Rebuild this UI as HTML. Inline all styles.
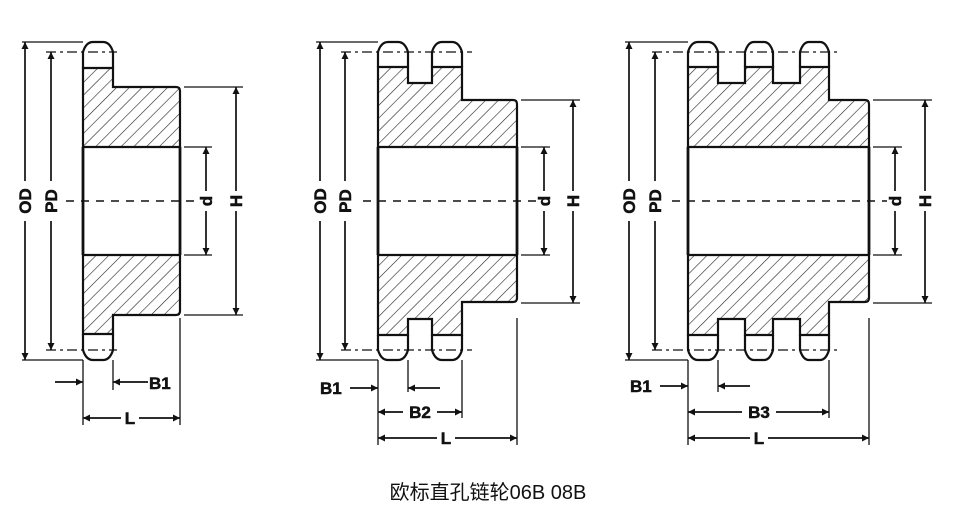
<!DOCTYPE html>
<html><head><meta charset="utf-8"><style>
html,body{margin:0;padding:0;background:#fff;width:956px;height:511px;overflow:hidden}
svg{display:block}
text{font-family:"Liberation Sans",Arial,sans-serif;font-weight:bold;fill:#111}
.cap{font-family:"Liberation Sans","Noto Sans CJK SC",sans-serif;font-weight:normal;fill:#111}
</style></head><body>
<svg width="956" height="511" viewBox="0 0 956 511" xmlns="http://www.w3.org/2000/svg">
<defs>
<pattern id="h" width="9" height="9" patternUnits="userSpaceOnUse" patternTransform="rotate(45)">
<line x1="0" y1="0" x2="0" y2="9" stroke="#222" stroke-width="1.2"/>
</pattern>
<pattern id="h2" width="9" height="9" patternUnits="userSpaceOnUse" patternTransform="rotate(-45)">
<line x1="0" y1="0" x2="0" y2="9" stroke="#222" stroke-width="1.2"/>
</pattern>
<marker id="a" viewBox="0 0 10 10" refX="10" refY="5" markerWidth="10" markerHeight="7" markerUnits="userSpaceOnUse" orient="auto-start-reverse">
<path d="M0,0 L10,5 L0,10 Z" fill="#111"/>
</marker>
</defs>
<g fill="none" stroke="#111" stroke-width="1.7">

<!-- ===== Sprocket 1 ===== -->
<g>
<path d="M83,147 L83,68 L113,68 L113,87 L176,87 Q180,87 180,91 L180,147 Z" fill="url(#h)" stroke-width="2.2"/>
<path d="M83,68 L83,52 Q86,42 93,42 L103,42 Q110,42 113,52 L113,68" stroke-width="2.2"/>
</g>
<g transform="translate(0,402) scale(1,-1)">
<path d="M83,147 L83,68 L113,68 L113,87 L176,87 Q180,87 180,91 L180,147 Z" fill="url(#h2)" stroke-width="2.2"/>
<path d="M83,68 L83,52 Q86,42 93,42 L103,42 Q110,42 113,52 L113,68" stroke-width="2.2"/>
</g>
<line x1="83" y1="147" x2="83" y2="255" stroke-width="2.8"/>
<line x1="180" y1="147" x2="180" y2="255" stroke-width="2.8"/>
<line x1="66" y1="201" x2="200" y2="201" stroke-dasharray="8,7" stroke-width="1.5"/>
<line x1="46" y1="52" x2="117" y2="52" stroke-dasharray="10,4,3,4" stroke-width="1.3"/>
<line x1="46" y1="350" x2="117" y2="350" stroke-dasharray="10,4,3,4" stroke-width="1.3"/>
<line x1="22" y1="42" x2="83" y2="42" stroke-width="1.3"/>
<line x1="22" y1="360" x2="83" y2="360" stroke-width="1.3"/>
<line x1="184" y1="87" x2="243" y2="87" stroke-width="1.3"/>
<line x1="184" y1="315" x2="243" y2="315" stroke-width="1.3"/>
<line x1="184" y1="147" x2="212" y2="147" stroke-width="1.3"/>
<line x1="184" y1="255" x2="212" y2="255" stroke-width="1.3"/>
<line x1="25" y1="42" x2="25" y2="360" marker-start="url(#a)" marker-end="url(#a)"/>
<line x1="51" y1="52" x2="51" y2="350" marker-start="url(#a)" marker-end="url(#a)"/>
<line x1="206" y1="147" x2="206" y2="255" marker-start="url(#a)" marker-end="url(#a)"/>
<line x1="236" y1="87" x2="236" y2="315" marker-start="url(#a)" marker-end="url(#a)"/>
<line x1="83" y1="360" x2="83" y2="425" stroke-width="1.3"/>
<line x1="113" y1="360" x2="113" y2="390" stroke-width="1.3"/>
<line x1="180" y1="318" x2="180" y2="425" stroke-width="1.3"/>
<line x1="55" y1="382" x2="83" y2="382" marker-end="url(#a)"/>
<line x1="148" y1="382" x2="113" y2="382" marker-end="url(#a)"/>
<line x1="83" y1="418" x2="180" y2="418" marker-start="url(#a)" marker-end="url(#a)"/>

<!-- ===== Sprocket 2 ===== -->
<g>
<path d="M378,147 L378,67 L408,67 L408,83 L432,83 L432,67 L462,67 L462,100 L513,100 Q517,100 517,104 L517,147 Z" fill="url(#h)" stroke-width="2.2"/>
<path d="M378,67 L378,52 Q381,42 388,42 L398,42 Q405,42 408,52 L408,67 M432,67 L432,52 Q435,42 442,42 L452,42 Q459,42 462,52 L462,67" stroke-width="2.2"/>
</g>
<g transform="translate(0,402) scale(1,-1)">
<path d="M378,147 L378,67 L408,67 L408,83 L432,83 L432,67 L462,67 L462,100 L513,100 Q517,100 517,104 L517,147 Z" fill="url(#h2)" stroke-width="2.2"/>
<path d="M378,67 L378,52 Q381,42 388,42 L398,42 Q405,42 408,52 L408,67 M432,67 L432,52 Q435,42 442,42 L452,42 Q459,42 462,52 L462,67" stroke-width="2.2"/>
</g>
<line x1="378" y1="147" x2="378" y2="255" stroke-width="2.8"/>
<line x1="517" y1="147" x2="517" y2="255" stroke-width="2.8"/>
<line x1="363" y1="201" x2="540" y2="201" stroke-dasharray="8,7" stroke-width="1.5"/>
<line x1="341" y1="52" x2="472" y2="52" stroke-dasharray="10,4,3,4" stroke-width="1.3"/>
<line x1="341" y1="350" x2="472" y2="350" stroke-dasharray="10,4,3,4" stroke-width="1.3"/>
<line x1="316" y1="42" x2="378" y2="42" stroke-width="1.3"/>
<line x1="316" y1="360" x2="378" y2="360" stroke-width="1.3"/>
<line x1="521" y1="100" x2="580" y2="100" stroke-width="1.3"/>
<line x1="521" y1="303" x2="580" y2="303" stroke-width="1.3"/>
<line x1="521" y1="147" x2="550" y2="147" stroke-width="1.3"/>
<line x1="521" y1="255" x2="550" y2="255" stroke-width="1.3"/>
<line x1="320" y1="42" x2="320" y2="360" marker-start="url(#a)" marker-end="url(#a)"/>
<line x1="345" y1="52" x2="345" y2="350" marker-start="url(#a)" marker-end="url(#a)"/>
<line x1="544" y1="147" x2="544" y2="255" marker-start="url(#a)" marker-end="url(#a)"/>
<line x1="573" y1="100" x2="573" y2="303" marker-start="url(#a)" marker-end="url(#a)"/>
<line x1="378" y1="360" x2="378" y2="445" stroke-width="1.3"/>
<line x1="408" y1="360" x2="408" y2="392" stroke-width="1.3"/>
<line x1="462" y1="360" x2="462" y2="418" stroke-width="1.3"/>
<line x1="517" y1="318" x2="517" y2="445" stroke-width="1.3"/>
<line x1="350" y1="388" x2="378" y2="388" marker-end="url(#a)"/>
<line x1="440" y1="388" x2="408" y2="388" marker-end="url(#a)"/>
<line x1="378" y1="412" x2="462" y2="412" marker-start="url(#a)" marker-end="url(#a)"/>
<line x1="378" y1="438" x2="517" y2="438" marker-start="url(#a)" marker-end="url(#a)"/>

<!-- ===== Sprocket 3 ===== -->
<g>
<path d="M688,147 L688,67 L718,67 L718,83 L745,83 L745,67 L773,67 L773,83 L800,83 L800,67 L829,67 L829,100 L865,100 Q869,100 869,104 L869,147 Z" fill="url(#h)" stroke-width="2.2"/>
<path d="M688,67 L688,52 Q691,42 698,42 L708,42 Q715,42 718,52 L718,67 M745,67 L745,52 Q748,42 754,42 L764,42 Q770,42 773,52 L773,67 M800,67 L800,52 Q803,42 809,42 L820,42 Q826,42 829,52 L829,67" stroke-width="2.2"/>
</g>
<g transform="translate(0,402) scale(1,-1)">
<path d="M688,147 L688,67 L718,67 L718,83 L745,83 L745,67 L773,67 L773,83 L800,83 L800,67 L829,67 L829,100 L865,100 Q869,100 869,104 L869,147 Z" fill="url(#h2)" stroke-width="2.2"/>
<path d="M688,67 L688,52 Q691,42 698,42 L708,42 Q715,42 718,52 L718,67 M745,67 L745,52 Q748,42 754,42 L764,42 Q770,42 773,52 L773,67 M800,67 L800,52 Q803,42 809,42 L820,42 Q826,42 829,52 L829,67" stroke-width="2.2"/>
</g>
<line x1="688" y1="147" x2="688" y2="255" stroke-width="2.8"/>
<line x1="869" y1="147" x2="869" y2="255" stroke-width="2.8"/>
<line x1="672" y1="201" x2="893" y2="201" stroke-dasharray="8,7" stroke-width="1.5"/>
<line x1="652" y1="52" x2="840" y2="52" stroke-dasharray="10,4,3,4" stroke-width="1.3"/>
<line x1="652" y1="350" x2="840" y2="350" stroke-dasharray="10,4,3,4" stroke-width="1.3"/>
<line x1="625" y1="42" x2="688" y2="42" stroke-width="1.3"/>
<line x1="625" y1="360" x2="688" y2="360" stroke-width="1.3"/>
<line x1="873" y1="100" x2="932" y2="100" stroke-width="1.3"/>
<line x1="873" y1="303" x2="932" y2="303" stroke-width="1.3"/>
<line x1="873" y1="147" x2="902" y2="147" stroke-width="1.3"/>
<line x1="873" y1="255" x2="902" y2="255" stroke-width="1.3"/>
<line x1="629" y1="42" x2="629" y2="360" marker-start="url(#a)" marker-end="url(#a)"/>
<line x1="655" y1="52" x2="655" y2="350" marker-start="url(#a)" marker-end="url(#a)"/>
<line x1="895" y1="147" x2="895" y2="255" marker-start="url(#a)" marker-end="url(#a)"/>
<line x1="925" y1="100" x2="925" y2="303" marker-start="url(#a)" marker-end="url(#a)"/>
<line x1="688" y1="360" x2="688" y2="445" stroke-width="1.3"/>
<line x1="718" y1="360" x2="718" y2="392" stroke-width="1.3"/>
<line x1="829" y1="360" x2="829" y2="418" stroke-width="1.3"/>
<line x1="869" y1="318" x2="869" y2="445" stroke-width="1.3"/>
<line x1="660" y1="386" x2="688" y2="386" marker-end="url(#a)"/>
<line x1="750" y1="386" x2="718" y2="386" marker-end="url(#a)"/>
<line x1="688" y1="412" x2="829" y2="412" marker-start="url(#a)" marker-end="url(#a)"/>
<line x1="688" y1="438" x2="869" y2="438" marker-start="url(#a)" marker-end="url(#a)"/>
</g>

<g fill="#fff">
<rect x="17" y="181" width="16" height="40"/><rect x="43" y="181" width="16" height="40"/>
<rect x="198" y="191" width="16" height="20"/><rect x="228" y="191" width="16" height="20"/>
<rect x="121" y="408" width="18" height="20"/>
<rect x="312" y="181" width="16" height="40"/><rect x="337" y="181" width="16" height="40"/>
<rect x="536" y="191" width="16" height="20"/><rect x="565" y="191" width="16" height="20"/>
<rect x="403" y="402" width="34" height="20"/><rect x="437" y="428" width="18" height="20"/>
<rect x="621" y="181" width="16" height="40"/><rect x="647" y="181" width="16" height="40"/>
<rect x="887" y="191" width="16" height="20"/><rect x="917" y="191" width="16" height="20"/>
<rect x="742" y="402" width="34" height="20"/><rect x="750" y="428" width="18" height="20"/>
</g>
<g font-size="17" stroke="#111" stroke-width="0.5">
<text transform="translate(31,201) rotate(-90)" text-anchor="middle">OD</text>
<text transform="translate(57,201) rotate(-90)" text-anchor="middle">PD</text>
<text transform="translate(212,201) rotate(-90)" text-anchor="middle">d</text>
<text transform="translate(242,201) rotate(-90)" text-anchor="middle">H</text>
<text x="149" y="389">B1</text>
<text x="130" y="424" text-anchor="middle">L</text>

<text transform="translate(326,201) rotate(-90)" text-anchor="middle">OD</text>
<text transform="translate(351,201) rotate(-90)" text-anchor="middle">PD</text>
<text transform="translate(550,201) rotate(-90)" text-anchor="middle">d</text>
<text transform="translate(579,201) rotate(-90)" text-anchor="middle">H</text>
<text x="320" y="394">B1</text>
<text x="420" y="418" text-anchor="middle">B2</text>
<text x="446" y="444" text-anchor="middle">L</text>

<text transform="translate(635,201) rotate(-90)" text-anchor="middle">OD</text>
<text transform="translate(661,201) rotate(-90)" text-anchor="middle">PD</text>
<text transform="translate(901,201) rotate(-90)" text-anchor="middle">d</text>
<text transform="translate(931,201) rotate(-90)" text-anchor="middle">H</text>
<text x="630" y="392">B1</text>
<text x="759" y="418" text-anchor="middle">B3</text>
<text x="759" y="444" text-anchor="middle">L</text>
</g>
<text class="cap" x="488" y="499" font-size="20" text-anchor="middle">欧标直孔链轮06B 08B</text>
</svg>
</body></html>
